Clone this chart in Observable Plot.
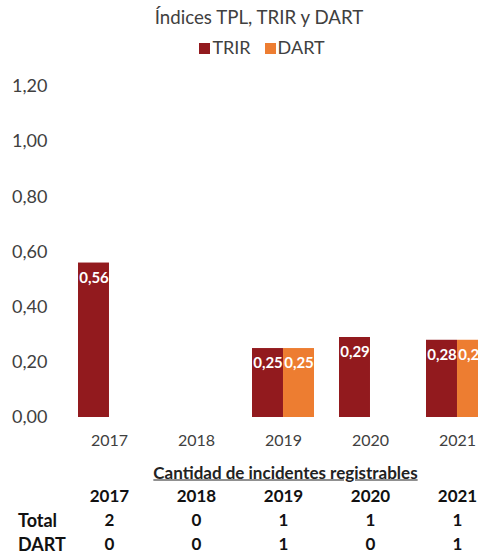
<!DOCTYPE html>
<html><head><meta charset="utf-8">
<script src="https://cdn.jsdelivr.net/npm/d3@7"></script>
<script src="https://cdn.jsdelivr.net/npm/@observablehq/plot@0.6"></script>
<style>
html,body{margin:0;padding:0;background:#fff}
body{font-family:Lato,"Open Sans",sans-serif;width:478px;height:556px;overflow:hidden;position:relative}
#title{position:absolute;top:6px;left:0;width:518px;text-align:center;font-size:18.7px;color:#404040;line-height:22px}
#legend{position:absolute;top:36px;left:0;width:524px;text-align:center;font-size:18px;color:#404040;line-height:22px}
#legend span.sw{display:inline-block;width:11px;height:11px;margin-right:2px;vertical-align:0px}
#legend span.item{margin:0 7px}
#chart{position:absolute;top:70px;left:0}
.cell{position:absolute;transform:translate(-50%,-50%);font-weight:bold;font-size:17px;color:#111;white-space:nowrap;line-height:20px}
.rowlab{position:absolute;transform:translate(0,-50%);font-weight:bold;font-size:18px;color:#111;line-height:20px}
#heading{position:absolute;transform:translate(-50%,-50%);font-weight:bold;font-size:17px;color:#222;text-decoration:underline;white-space:nowrap}
</style>
</head><body>
<div id="title"></div>
<div id="legend"></div>
<div id="chart"></div>
<div id="table"></div>
<script>
const title = "Índices TPL, TRIR y DART";
const years = ["2017", "2018", "2019", "2020", "2021"];
const seriesNames = ["TRIR", "DART"];
const seriesColors = ["#921A1E", "#ED7D31"];
const trirValues = [0.56, null, 0.25, 0.29, 0.28];
const dartValues = [null, null, 0.25, null, 0.28];
const yTicks = [0, 0.2, 0.4, 0.6, 0.8, 1.0, 1.2];
const tableHeading = "Cantidad de incidentes registrables";
const rowLabels = ["Total", "DART"];
const totalCounts = [2, 0, 1, 1, 1];
const dartCounts = [0, 0, 1, 0, 1];

const fmt = v => d3.format(".2f")(v).replace(".", ",");

document.getElementById("title").textContent = title;
document.getElementById("legend").innerHTML = seriesNames.map((s, i) =>
  `<span class="item"><span class="sw" style="background:${seriesColors[i]}"></span>${s}</span>`).join("");

const trir = years.map((y, i) => ({year: y, value: trirValues[i]})).filter(d => d.value != null);
const dart = years.map((y, i) => ({year: y, value: dartValues[i]})).filter(d => d.value != null);

const W = 478, H = 386;
const xOpts = {type: "band", domain: years, range: [53.5, 513.5], padding: 0.287};
const xs = Plot.scale({x: xOpts});
const bw = xs.bandwidth;

const chart = Plot.plot({
  width: W, height: H,
  marginLeft: 55, marginRight: 0, marginTop: 16, marginBottom: 39,
  style: {fontFamily: "Lato, sans-serif", color: "#404040", overflow: "hidden", background: "white"},
  x: {...xOpts, label: null},
  y: {domain: [0, 1.2], label: null},
  marks: [
    Plot.barY(trir, {x: "year", y: "value", fill: seriesColors[0], insetRight: bw / 2}),
    Plot.barY(dart, {x: "year", y: "value", fill: seriesColors[1], insetLeft: bw / 2}),
    Plot.text(trir, {x: "year", y: "value", text: d => fmt(d.value), dx: -bw / 4, dy: 15, fill: "white", fontWeight: "bold", fontSize: 15}),
    Plot.text(dart, {x: "year", y: "value", text: d => fmt(d.value), dx: bw / 4, dy: 15, fill: "white", fontWeight: "bold", fontSize: 15}),
    Plot.axisY({ticks: yTicks, tickFormat: fmt, tickSize: 0, tickPadding: 8, fontSize: 18, label: null}),
    Plot.axisX({tickSize: 0, tickPadding: 17, fontSize: 16, label: null})
  ]
});
document.getElementById("chart").appendChild(chart);

// table below the chart, columns aligned with the x scale
const tbl = document.getElementById("table");
const cx = y => xs.apply(y) + bw / 2;
let html = `<div id="heading" style="left:${(cx(years[0]) + cx(years[4])) / 2 + 2}px;top:472px">${tableHeading}</div>`;
years.forEach(y => { html += `<div class="cell" style="left:${cx(y)}px;top:496px">${y}</div>`; });
const rows = [totalCounts, dartCounts];
rows.forEach((r, ri) => {
  const top = 520 + ri * 24;
  html += `<div class="rowlab" style="left:18px;top:${top}px">${rowLabels[ri]}</div>`;
  r.forEach((v, i) => { html += `<div class="cell" style="left:${cx(years[i])}px;top:${top}px">${v}</div>`; });
});
tbl.innerHTML = html;
</script>
</body></html>
